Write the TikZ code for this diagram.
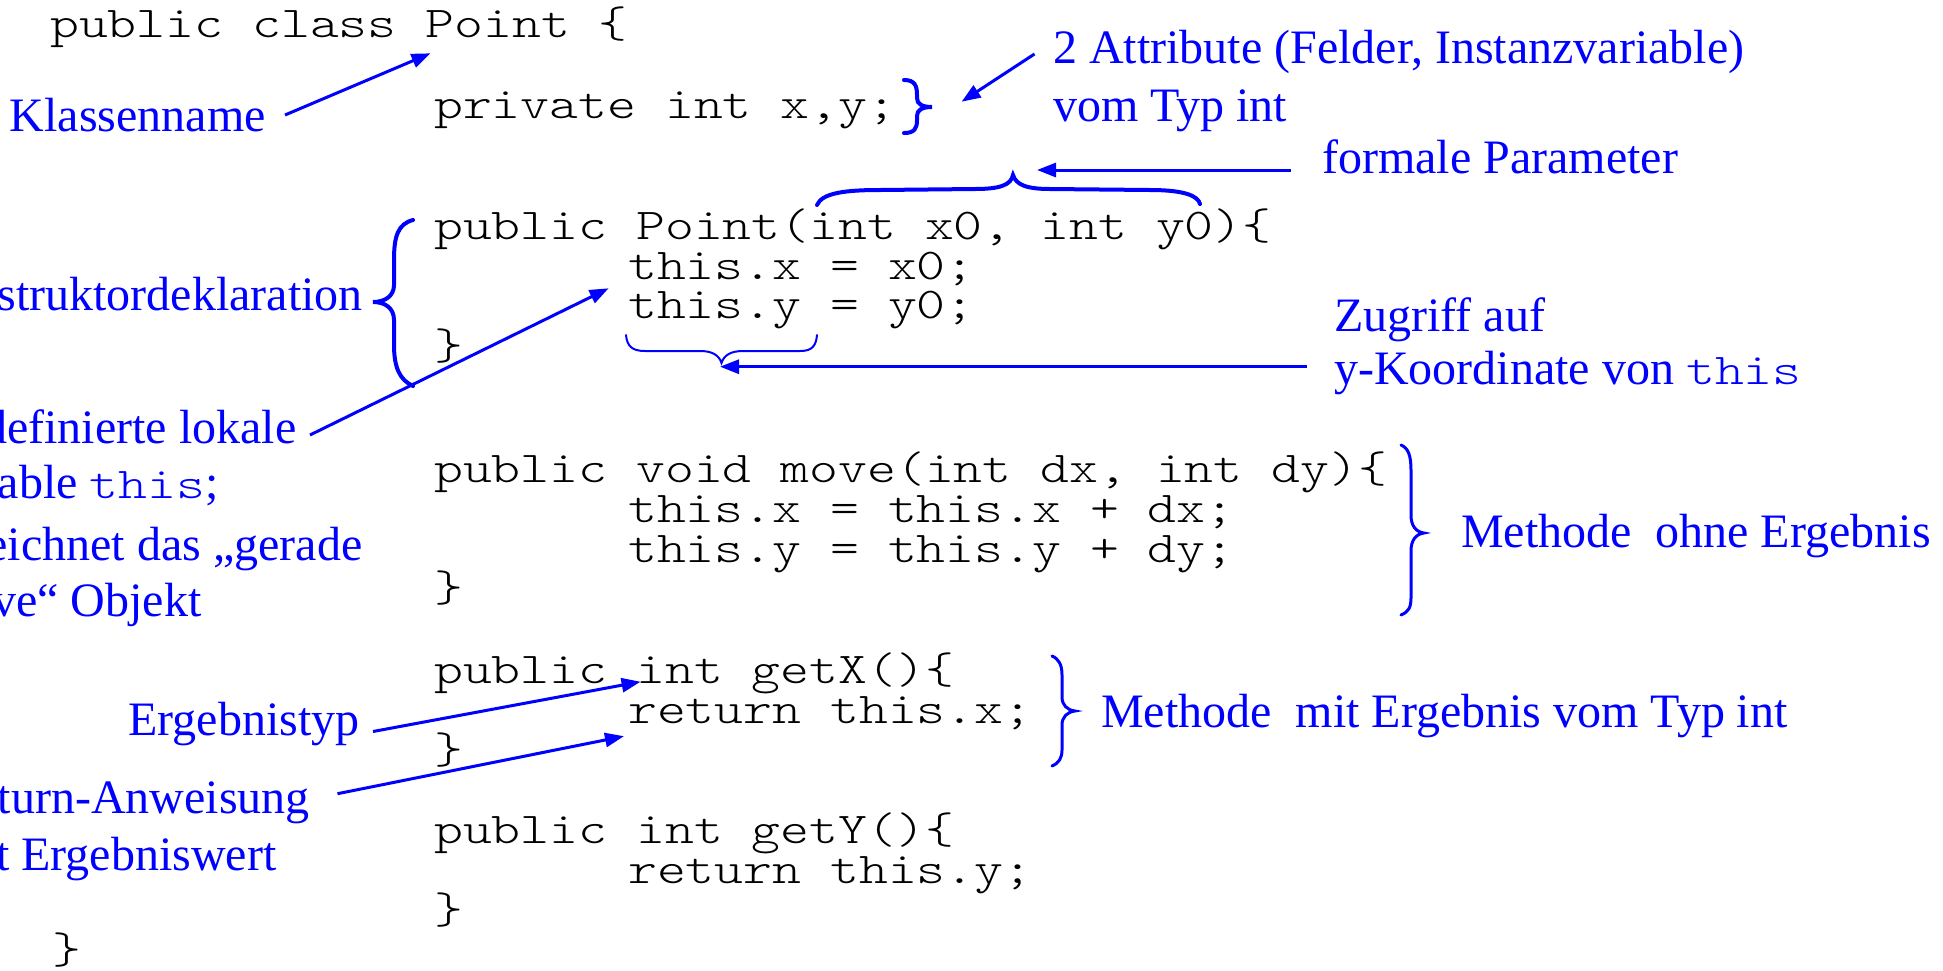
\documentclass[tikz,border=0pt]{standalone}
\usepackage{fontspec}
\setmainfont{Liberation Serif}
\newfontfamily\codefont[Extension=.otf,FakeStretch=1.25]{lmmonolt10-regular}
\usetikzlibrary{arrows.meta}
\definecolor{lblue}{RGB}{0,0,255}
\newcommand{\codesize}{\codefont\fontsize{44}{40}\selectfont}
\tikzset{
  code/.style={anchor=base west, inner sep=0pt, font=\codesize, text=black},
  lbl/.style={inner sep=0pt, font=\fontsize{48}{50}\selectfont, text=lblue},
  arr/.style={draw=lblue, line width=3pt, -{Triangle[length=19pt,width=14pt]}},
  brc/.style={draw=lblue, line width=4pt, line cap=round},
  thinbrc/.style={draw=lblue, line width=2pt, line cap=round},
}
\begin{document}
\begin{tikzpicture}[x=1pt,y=-1pt]
\fill[white] (0,0) rectangle (1943,970);
\path[use as bounding box] (0,0) rectangle (1943,970);

% code
\node[code] (c1) at (50,37.3) {public class Point \{};
\node[code] (c2) at (434,118.3) {private int x,y;};
\node[code] (c3) at (434,239) {public Point(int x0, int y0)\{};
\node[code] (c4) at (628,279) {this.x = x0;};
\node[code] (c5) at (628,318) {this.y = y0;};
\node[code] (c6) at (434,359) {\}};
\node[code] (c7) at (434,482) {public void move(int dx, int dy)\{};
\node[code] (c8) at (628,522) {this.x = this.x + dx;};
\node[code] (c9) at (628,562) {this.y = this.y + dy;};
\node[code] (c10) at (434,601) {\}};
\node[code] (c11) at (434,683) {public int getX()\{};
\node[code] (c12) at (628,723.5) {return this.x;};
\node[code] (c13) at (434,763) {\}};
\node[code] (c14) at (434,843.5) {public int getY()\{};
\node[code] (c15) at (628,883.5) {return this.y;};
\node[code] (c16) at (434,923) {\}};
\node[code] (c17) at (52,963) {\}};

% labels
\node[lbl, anchor=base west] (klass) at (9.6,131.7) {Klassenname};
\node[lbl, anchor=base west] (attr1) at (1053,63) {2 Attribute (Felder, Instanzvariable)};
\node[lbl, anchor=base west] (attr2) at (1053,121.7) {vom Typ int};
\node[lbl, anchor=base west] (formal) at (1322,173) {formale Parameter};
\node[lbl, anchor=base west] (zug1) at (1334,331.7) {Zugriff auf};
\node[lbl, anchor=base west] (zug2) at (1334,384) {y-Koordinate von {\codesize this}};
\node[lbl, anchor=base east] (konstr) at (363,310.7) {struktordeklaration};
\node[lbl, anchor=base east] (vord1) at (296.7,443.5) {definierte lokale};
\node[lbl, anchor=base east] (vord2) at (218.7,498) {able {\codesize this};};
\node[lbl, anchor=base east] (vord3) at (362.5,560) {eichnet das „gerade};
\node[lbl, anchor=base east] (vord4) at (201.8,616.3) {ve“ Objekt};
\node[lbl, anchor=base west] (ergtyp) at (128.3,735) {Ergebnistyp};
\node[lbl, anchor=base east] (ret1) at (310,813.3) {turn-Anweisung};
\node[lbl, anchor=base east] (ret2) at (276.7,870) {t Ergebniswert};
\node[lbl, anchor=base west] (m1) at (1460.8,547) {Methode~ ohne Ergebnis};
\node[lbl, anchor=base west] (m2) at (1101,727) {Methode~ mit Ergebnis vom Typ int};

% arrow end points
\coordinate (a1s) at (285,115);     \coordinate (a1e) at (430.5,53.3);
\coordinate (a2s) at (1034.5,54);   \coordinate (a2e) at (961.6,101.7);
\coordinate (a3s) at (1291,170);    \coordinate (a3e) at (1037,170);
\coordinate (a4s) at (1307,366.7);  \coordinate (a4e) at (720,366.7);
\coordinate (a5s) at (310,435);     \coordinate (a5e) at (608.6,288.3);
\coordinate (a6s) at (373,731.5);   \coordinate (a6e) at (640.6,681.7);
\coordinate (a7s) at (337.5,793.7); \coordinate (a7e) at (624,736.2);

\draw[arr] (a1s) -- (a1e);
\draw[arr] (a2s) -- (a2e);
\draw[arr] (a3s) -- (a3e);
\draw[arr] (a4s) -- (a4e);
\draw[arr] (a5s) -- (a5e);
\draw[arr] (a6s) -- (a6e);
\draw[arr] (a7s) -- (a7e);

% braces
% } after x,y
\draw[brc] (904,80) .. controls (915,80) and (917,86) .. (917,95) -- (917,98)
  .. controls (917,104) and (922,107) .. (932,107)
  .. controls (922,107) and (917,110) .. (917,116) -- (917,120)
  .. controls (917,128) and (915,133) .. (904,133);
% constructor {
\draw[brc] (413,220) .. controls (398,224) and (394,236) .. (394,260) -- (394,285)
  .. controls (394,296) and (385,302) .. (373,302)
  .. controls (385,302) and (394,308) .. (394,320) -- (394,345)
  .. controls (394,368) and (400,380) .. (413,386);
% upper brace over parameters
\draw[brc] (817,205) .. controls (822,193) and (845,190) .. (880,190) -- (975,189)
  .. controls (1000,189) and (1011,185) .. (1013,175)
  .. controls (1016,185) and (1027,189) .. (1050,189) -- (1150,190)
  .. controls (1185,190) and (1198,196) .. (1200,204);
% lower brace under this.y
\draw[thinbrc] (626,335) .. controls (627,346) and (632,351) .. (645,351) -- (700,351)
  .. controls (712,351) and (719,355) .. (721.5,363)
  .. controls (724,355) and (731,351) .. (743,351) -- (800,351)
  .. controls (812,351) and (816,346) .. (817,335);
% Methode ohne Ergebnis
\draw[brc, line width=3pt] (1401,445) .. controls (1408,448) and (1411,455) .. (1411,470) -- (1411,515)
  .. controls (1411,526) and (1416,532) .. (1424,533)
  .. controls (1416,534) and (1411,540) .. (1411,551) -- (1411,598)
  .. controls (1411,608) and (1408,612) .. (1401,615);
% Methode mit Ergebnis
\draw[brc, line width=3pt] (1052,656) .. controls (1059,659) and (1062,665) .. (1062,675) -- (1062,697)
  .. controls (1062,705) and (1067,710) .. (1075,711)
  .. controls (1067,712) and (1062,717) .. (1062,725) -- (1062,750)
  .. controls (1062,758) and (1059,763) .. (1052,766);
\end{tikzpicture}
\end{document}
